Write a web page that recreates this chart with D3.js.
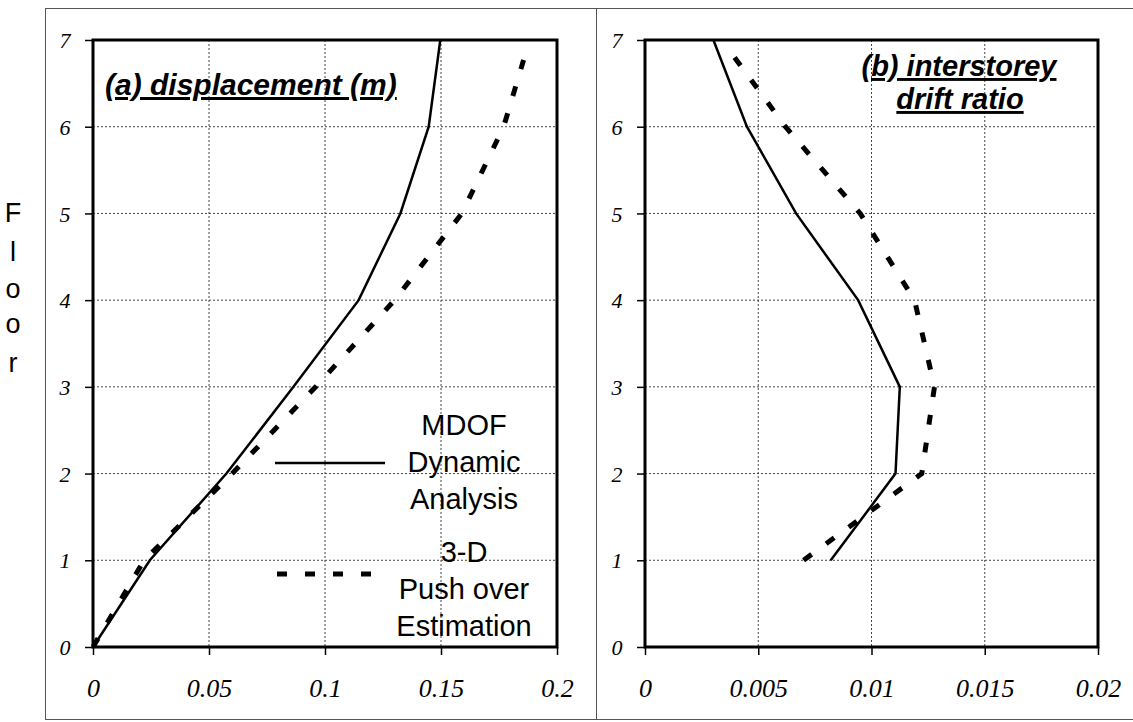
<!DOCTYPE html>
<html>
<head>
<meta charset="utf-8">
<script src="https://cdn.jsdelivr.net/npm/d3@7"></script>
<style>
  body { margin: 0; background: #fff; }
  svg { display: block; }
</style>
</head>
<body>
<div id="chart"></div>
<script>
// floors and storey values
var floors = [0, 1, 2, 3, 4, 5, 6, 7];
var mdofDisp = [0, 0.0245, 0.0575, 0.0864, 0.1145, 0.1325, 0.1447, 0.1497];
var pushFloors = [0, 1, 2, 3, 4, 5, 6, 6.77];
var pushDisp = [0, 0.022, 0.060, 0.096, 0.130, 0.159, 0.177, 0.1856];

var driftFloors = [1, 2, 3, 4, 5, 6, 7];
var mdofDrift = [0.0082, 0.01106, 0.01125, 0.00941, 0.00667, 0.0045, 0.00302];
var pushDriftFloors = [1, 2, 3, 4, 5, 6, 6.89];
var pushDrift = [0.0070, 0.01222, 0.01278, 0.0119, 0.0095, 0.0062, 0.0037];

var floorTicks = [0, 1, 2, 3, 4, 5, 6, 7];
var dispTicks = [0, 0.05, 0.1, 0.15, 0.2];
var driftTicks = [0, 0.005, 0.01, 0.015, 0.02];
var dispTickLabels = ["0", "0.05", "0.1", "0.15", "0.2"];
var driftTickLabels = ["0", "0.005", "0.01", "0.015", "0.02"];

var legendSolid = ["MDOF", "Dynamic", "Analysis"];
var legendDash = ["3-D", "Push over", "Estimation"];

const width = 1133;
const height = 722;

const svg = d3.select("#chart")
    .append("svg")
    .attr("width", width)
    .attr("height", height);

// outer frames of the two panels
var frame = svg.append("g")
    .attr("stroke", "#555")
    .attr("stroke-width", 1)
    .attr("fill", "none");
frame.append("line").attr("x1", 45).attr("x2", 1133).attr("y1", 8.5).attr("y2", 8.5);
frame.append("line").attr("x1", 45).attr("x2", 1133).attr("y1", 719.5).attr("y2", 719.5);
frame.append("line").attr("x1", 45.5).attr("x2", 45.5).attr("y1", 8).attr("y2", 720);
frame.append("line").attr("x1", 596.5).attr("x2", 596.5).attr("y1", 8).attr("y2", 720);

// "Floor" written top to bottom
var floorBase = [222, 261, 298, 333, 372];
svg.append("g").selectAll("text")
    .data("Floor".split(""))
    .enter().append("text")
    .attr("x", 13)
    .attr("y", (d, i) => floorBase[i])
    .attr("text-anchor", "middle")
    .style("font-family", "Arial, 'Liberation Sans', sans-serif")
    .style("font-size", "27px")
    .text(d => d);

const y = d3.scaleLinear().domain([0, 7]).range([647, 40]);

function panel(x, ticks, tickLabels, series) {
    const g = svg.append("g");
    const x0 = x.range()[0], x1 = x.range()[1];

    // dotted grid
    g.append("g").selectAll("line")
        .data(ticks.slice(1, -1))
        .enter().append("line")
        .attr("x1", d => x(d)).attr("x2", d => x(d))
        .attr("y1", y(7)).attr("y2", y(0))
        .attr("stroke", "#444").attr("stroke-width", 1)
        .attr("stroke-dasharray", "2,2");
    g.append("g").selectAll("line")
        .data(floorTicks.slice(1, -1))
        .enter().append("line")
        .attr("x1", x0).attr("x2", x1)
        .attr("y1", d => y(d)).attr("y2", d => y(d))
        .attr("stroke", "#444").attr("stroke-width", 1)
        .attr("stroke-dasharray", "2,2");

    // axes
    const yAxis = g.append("g")
        .attr("transform", `translate(${x0},0)`)
        .call(d3.axisLeft(y).tickValues(floorTicks).tickSize(8).tickFormat(d3.format("d")));
    yAxis.select(".domain").remove();
    yAxis.selectAll("line").attr("stroke", "#000").attr("stroke-width", 1.5);
    yAxis.selectAll("text")
        .attr("x", -28)
        .attr("dy", "0.35em")
        .attr("text-anchor", "middle")
        .style("font-family", "'Liberation Serif', 'Times New Roman', serif")
        .style("font-style", "italic")
        .style("font-size", "22px");

    const xAxis = g.append("g")
        .attr("transform", `translate(0,${y(0)})`)
        .call(d3.axisBottom(x).tickValues(ticks).tickSize(8)
            .tickFormat((d, i) => tickLabels[i]));
    xAxis.select(".domain").remove();
    xAxis.selectAll("line").attr("stroke", "#000").attr("stroke-width", 1.5);
    xAxis.selectAll("text")
        .attr("y", 41)
        .attr("dy", "0.35em")
        .style("font-family", "'Liberation Serif', 'Times New Roman', serif")
        .style("font-style", "italic")
        .style("font-size", "26px");

    // series
    series.forEach(function (s) {
        const line = d3.line()
            .x(d => x(d[1]))
            .y(d => y(d[0]));
        g.append("path")
            .datum(d3.zip(s.floors, s.values))
            .attr("d", line)
            .attr("fill", "none")
            .attr("stroke", "#000")
            .attr("stroke-width", s.dashed ? 5 : 2.5)
            .attr("stroke-dasharray", s.dashed ? "10,18" : null);
    });

    // plot frame
    g.append("rect")
        .attr("x", x0).attr("y", y(7))
        .attr("width", x1 - x0).attr("height", y(0) - y(7))
        .attr("fill", "none")
        .attr("stroke", "#000")
        .attr("stroke-width", 3);
    return g;
}

const xA = d3.scaleLinear().domain([0, 0.2]).range([93, 557]);
const xB = d3.scaleLinear().domain([0, 0.02]).range([645, 1098]);

const gA = panel(xA, dispTicks, dispTickLabels, [
    { floors: floors, values: mdofDisp, dashed: false },
    { floors: pushFloors, values: pushDisp, dashed: true }
]);
const gB = panel(xB, driftTicks, driftTickLabels, [
    { floors: driftFloors, values: mdofDrift, dashed: false },
    { floors: pushDriftFloors, values: pushDrift, dashed: true }
]);

var titleFont = "Arial, 'Liberation Sans', sans-serif";
gA.append("text")
    .attr("x", 105).attr("y", 95)
    .style("font-family", titleFont)
    .style("font-weight", "bold")
    .style("font-style", "italic")
    .style("font-size", "30px")
    .style("text-decoration", "underline")
    .text("(a) displacement (m)");

gB.append("text")
    .attr("x", 959).attr("y", 76)
    .attr("text-anchor", "middle")
    .style("font-family", titleFont)
    .style("font-weight", "bold")
    .style("font-style", "italic")
    .style("font-size", "29px")
    .style("text-decoration", "underline")
    .text("(b) interstorey");
gB.append("text")
    .attr("x", 960).attr("y", 109)
    .attr("text-anchor", "middle")
    .style("font-family", titleFont)
    .style("font-weight", "bold")
    .style("font-style", "italic")
    .style("font-size", "29px")
    .style("text-decoration", "underline")
    .text("drift ratio");

// legend inside panel (a)
var legend = gA.append("g");
legend.append("line")
    .attr("x1", 275).attr("x2", 385).attr("y1", 463).attr("y2", 463)
    .attr("stroke", "#000").attr("stroke-width", 2.5);
legend.append("line")
    .attr("x1", 277).attr("x2", 375).attr("y1", 574).attr("y2", 574)
    .attr("stroke", "#000").attr("stroke-width", 5)
    .attr("stroke-dasharray", "10,18");

legend.selectAll(".solid-txt")
    .data(legendSolid)
    .enter().append("text")
    .attr("class", "solid-txt")
    .attr("x", 464)
    .attr("y", (d, i) => 435 + i * 37)
    .attr("text-anchor", "middle")
    .style("font-family", titleFont)
    .style("font-size", "29px")
    .text(d => d);

legend.selectAll(".dash-txt")
    .data(legendDash)
    .enter().append("text")
    .attr("class", "dash-txt")
    .attr("x", 464)
    .attr("y", (d, i) => 562 + i * 37)
    .attr("text-anchor", "middle")
    .style("font-family", titleFont)
    .style("font-size", "29px")
    .text(d => d);
</script>
</body>
</html>
